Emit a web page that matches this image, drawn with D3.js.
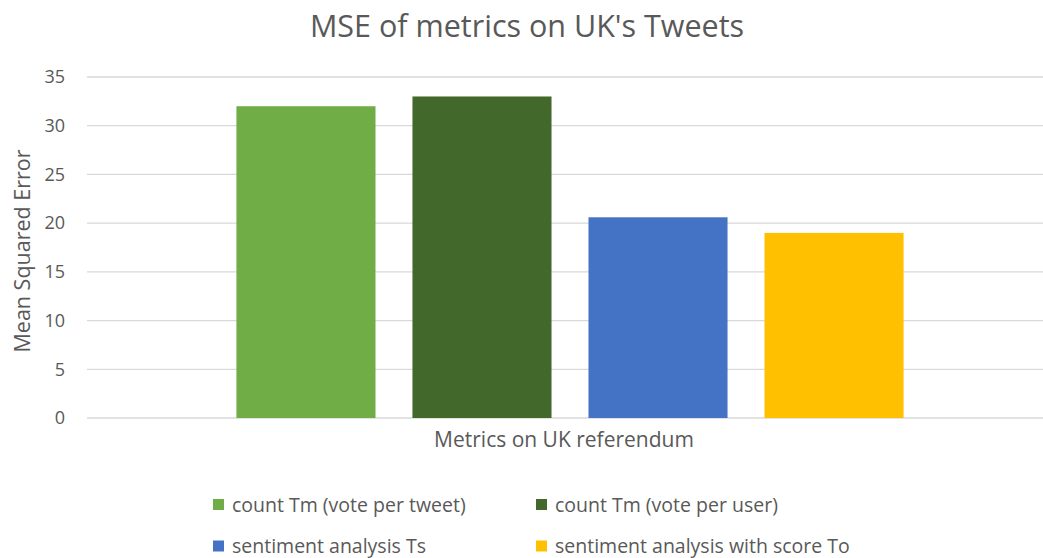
<!DOCTYPE html>
<html>
<head>
<meta charset="utf-8">
<script src="https://cdn.jsdelivr.net/npm/d3@7"></script>
<style>
  body { margin: 0; background: #fff; }
  text { font-family: "Open Sans", Lato, sans-serif; fill: #595959; }
</style>
</head>
<body>
<svg id="chart" width="1043" height="558"></svg>
<script>
const category = "Metrics on UK referendum";
const series = ["count Tm (vote per tweet)", "count Tm (vote per user)", "sentiment analysis Ts", "sentiment analysis with score To"];
const values = [32, 33, 20.6, 19];
const colors = ["#70ad47", "#43682b", "#4472c4", "#ffc000"];
const yTicks = [0, 5, 10, 15, 20, 25, 30, 35];

const svg = d3.select("#chart");
let margin = {top: 77, left: 87, right: -10, bottom: 140};
let width = 1043 - margin.left - margin.right,
    height = 558 - margin.top - margin.bottom;

const g = svg.append("g").attr("transform", `translate(${margin.left},${margin.top})`);

const y = d3.scaleLinear().domain([0, 35]).range([height, 0]);
const x0 = d3.scaleBand().domain([category]).range([0, width]).paddingOuter(0.224);
const x1 = d3.scaleBand().domain(series).range([0, x0.bandwidth()]).paddingInner(0.21);

// gridlines
g.selectAll(".grid").data(yTicks).enter().append("line")
    .attr("x1", 0).attr("x2", width)
    .attr("y1", d => y(d)).attr("y2", d => y(d))
    .attr("stroke", "#d9d9d9").attr("stroke-width", 1.3);

// y axis labels
const yAxis = d3.axisLeft(y).tickValues(yTicks).tickSize(0).tickPadding(22);
g.append("g").call(yAxis)
    .call(a => a.select(".domain").remove())
    .selectAll("text").style("font-size", "18px").style("font-family", "'Open Sans'").attr("fill", "#595959");

// bars
g.selectAll(".bar").data(values).enter().append("rect")
    .attr("x", (d, i) => x0(category) + x1(series[i]))
    .attr("width", x1.bandwidth())
    .attr("y", d => y(d))
    .attr("height", d => height - y(d))
    .attr("fill", (d, i) => colors[i]);

// title
svg.append("text").attr("x", 527).attr("y", 37).attr("text-anchor", "middle")
    .style("font-size", "30.5px").text("MSE of metrics on UK's Tweets");

// axis titles
svg.append("text").attr("transform", "translate(30,251) rotate(-90)")
    .attr("text-anchor", "middle").style("font-size", "21.5px").text("Mean Squared Error");
svg.append("text").attr("x", 564).attr("y", 447).attr("text-anchor", "middle")
    .style("font-size", "21px").text(category);

// legend
const legendPos = [[213, 504.5], [536, 504.5], [213, 546], [536, 546]];
series.forEach((s, i) => {
    let lg = svg.append("g").attr("transform", `translate(${legendPos[i][0]},${legendPos[i][1]})`);
    lg.append("rect").attr("x", 0).attr("y", -5.5).attr("width", 11).attr("height", 11).attr("fill", colors[i]);
    lg.append("text").attr("x", 19).attr("y", 7).style("font-size", "19.5px").text(s);
});
</script>
</body>
</html>
